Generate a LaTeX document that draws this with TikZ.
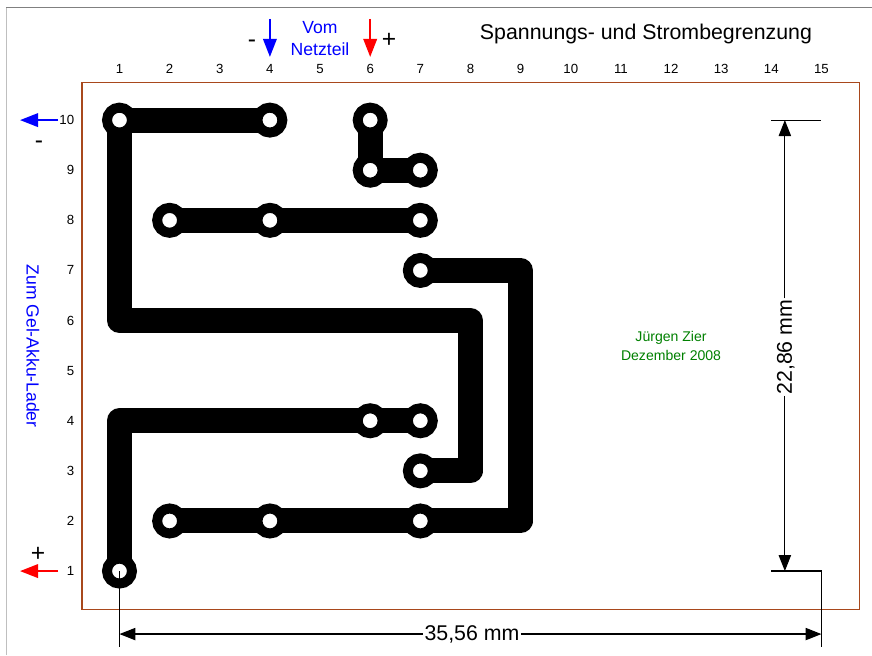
\documentclass[tikz,border=0pt]{standalone}
\usepackage{fontspec}
\setmainfont{Liberation Sans}
\usetikzlibrary{calc,positioning,arrows.meta}
\pgfdeclarelayer{back}
\pgfsetlayers{back,main}
\definecolor{boardbrown}{HTML}{A8481C}

\tikzset{
  pad/.style={circle,draw=black,fill=white,line width=8.5pt,inner sep=0pt,minimum size=21.3pt},
  track/.style={line width=21.3pt,line join=round,draw=black},
  board/.style={draw=boardbrown,line width=1pt},
  tick label/.style={font=\fontsize{11.3}{13}\selectfont},
  big label/.style={font=\fontsize{18.2}{21}\selectfont},
  mark label/.style={font=\fontsize{21}{22}\selectfont},
  blue label/.style={font=\fontsize{15}{17}\selectfont,text=blue},
  green label/.style={font=\fontsize{12}{14}\selectfont,text=green!50!black},
  dim line/.style={draw=black,line width=1pt},
  dim arrow/.style={dim line,-{Triangle[length=13.6pt,width=10.5pt]}},
  lead/.style={line width=2pt,-{Triangle[length=15.5pt,width=11.5pt]}},
}

\begin{document}
\begin{tikzpicture}[x=1.504cm,y=1.503cm]

  \useasboundingbox (-1.383,-0.677) rectangle (16.008,12.397);

  % sheet edge
  \draw[lightgray,line width=1.6pt] (-1.254,-0.677) -- (-1.254,12.247);
  \draw[gray,line width=.9pt] (-1.254,12.247) -- (16.008,12.247);

  \draw[board] (0.252,0.2415) rectangle (15.758,10.75);

  % grid numbers
  \foreach \c in {1,...,15}
    \node[tick label] (col_\c) at (\c,11.02) {\c};
  \foreach \r in {1,...,10}
    \node[tick label,anchor=east,inner sep=0pt] (row_\r) at (0.1,\r) {\r};

  % pads
  \foreach \c/\r in {1/10,4/10,6/10,6/9,7/9,2/8,4/8,7/8,7/7,6/4,7/4,7/3,2/2,4/2,7/2,1/1}
    \node[pad] (pad_\c_\r) at (\c,\r) {};

  \coordinate (bend_1_6) at (1,6);
  \coordinate (bend_8_6) at (8,6);
  \coordinate (bend_8_3) at (8,3);
  \coordinate (bend_9_7) at (9,7);
  \coordinate (bend_9_2) at (9,2);
  \coordinate (bend_1_4) at (1,4);

  % tracks
  \begin{pgfonlayer}{back}
    \draw[track] (pad_4_10.center) -- (pad_1_10.center) -- (bend_1_6) -- (bend_8_6) -- (bend_8_3) -- (pad_7_3.center);
    \draw[track] (pad_6_10.center) -- (pad_6_9.center) -- (pad_7_9.center);
    \draw[track] (pad_2_8.center) -- (pad_4_8.center) -- (pad_7_8.center);
    \draw[track] (pad_7_7.center) -- (bend_9_7) -- (bend_9_2) -- (pad_7_2.center) -- (pad_4_2.center) -- (pad_2_2.center);
    \draw[track] (pad_1_1.center) -- (bend_1_4) -- (pad_6_4.center) -- (pad_7_4.center);
  \end{pgfonlayer}

  % texts
  \node[big label] (title) at (11.5,11.72) {Spannungs- und Strombegrenzung};
  \node[blue label] (vom) at (5,11.84) {Vom};
  \node[blue label] (netzteil) at (5,11.42) {Netzteil};
  \node[blue label,rotate=-90] (lader) at (-0.725,5.49) {Zum Gel-Akku-Lader};
  \node[green label] (name) at (12,5.65) {Jürgen Zier};
  \node[green label] (date) at (12,5.31) {Dezember 2008};

  % leads
  \coordinate (in_minus) at (4,12.018);
  \coordinate (in_plus) at (6,12.018);
  \coordinate (out_minus) at (-0.226,10);
  \coordinate (out_plus) at (-0.226,1);
  \draw[lead,blue] (in_minus) -- (4,11.26);
  \draw[lead,red] (in_plus) -- (6,11.26);
  \draw[lead,blue] (out_minus) -- (-0.985,10);
  \draw[lead,red] (out_plus) -- (-0.985,1);
  \node[mark label] (sign_a) at (3.64,11.52) {-};
  \node[mark label] (sign_b) at (6.375,11.60) {+};
  \node[mark label] (sign_c) at (-0.605,9.50) {-};
  \node[mark label] (sign_d) at (-0.625,1.34) {+};

  % dimensions
  \coordinate (dim_top) at (14.27,10);
  \coordinate (dim_bottom) at (14.27,1);
  \coordinate (dim_left) at (1,-0.257);
  \coordinate (dim_right) at (15,-0.257);
  \node[big label,rotate=90,inner sep=1pt] (height) at (14.29,5.47) {22,86 mm};
  \node[big label,inner sep=1pt] (width) at (8.03,-0.257) {35,56 mm};
  \draw[dim arrow] (height.east -| dim_top) -- (dim_top);
  \draw[dim arrow] (height.west -| dim_bottom) -- (dim_bottom);
  \draw[dim arrow] (width.west) -- (dim_left);
  \draw[dim arrow] (width.east) -- (dim_right);
  \draw[dim line] (14,10) -- (15,10);
  \draw[dim line] (14,1) -- (15,1) -- (15,-0.507);
  \draw[dim line] (pad_1_1.center) -- (1,-0.507);

\end{tikzpicture}
\end{document}
